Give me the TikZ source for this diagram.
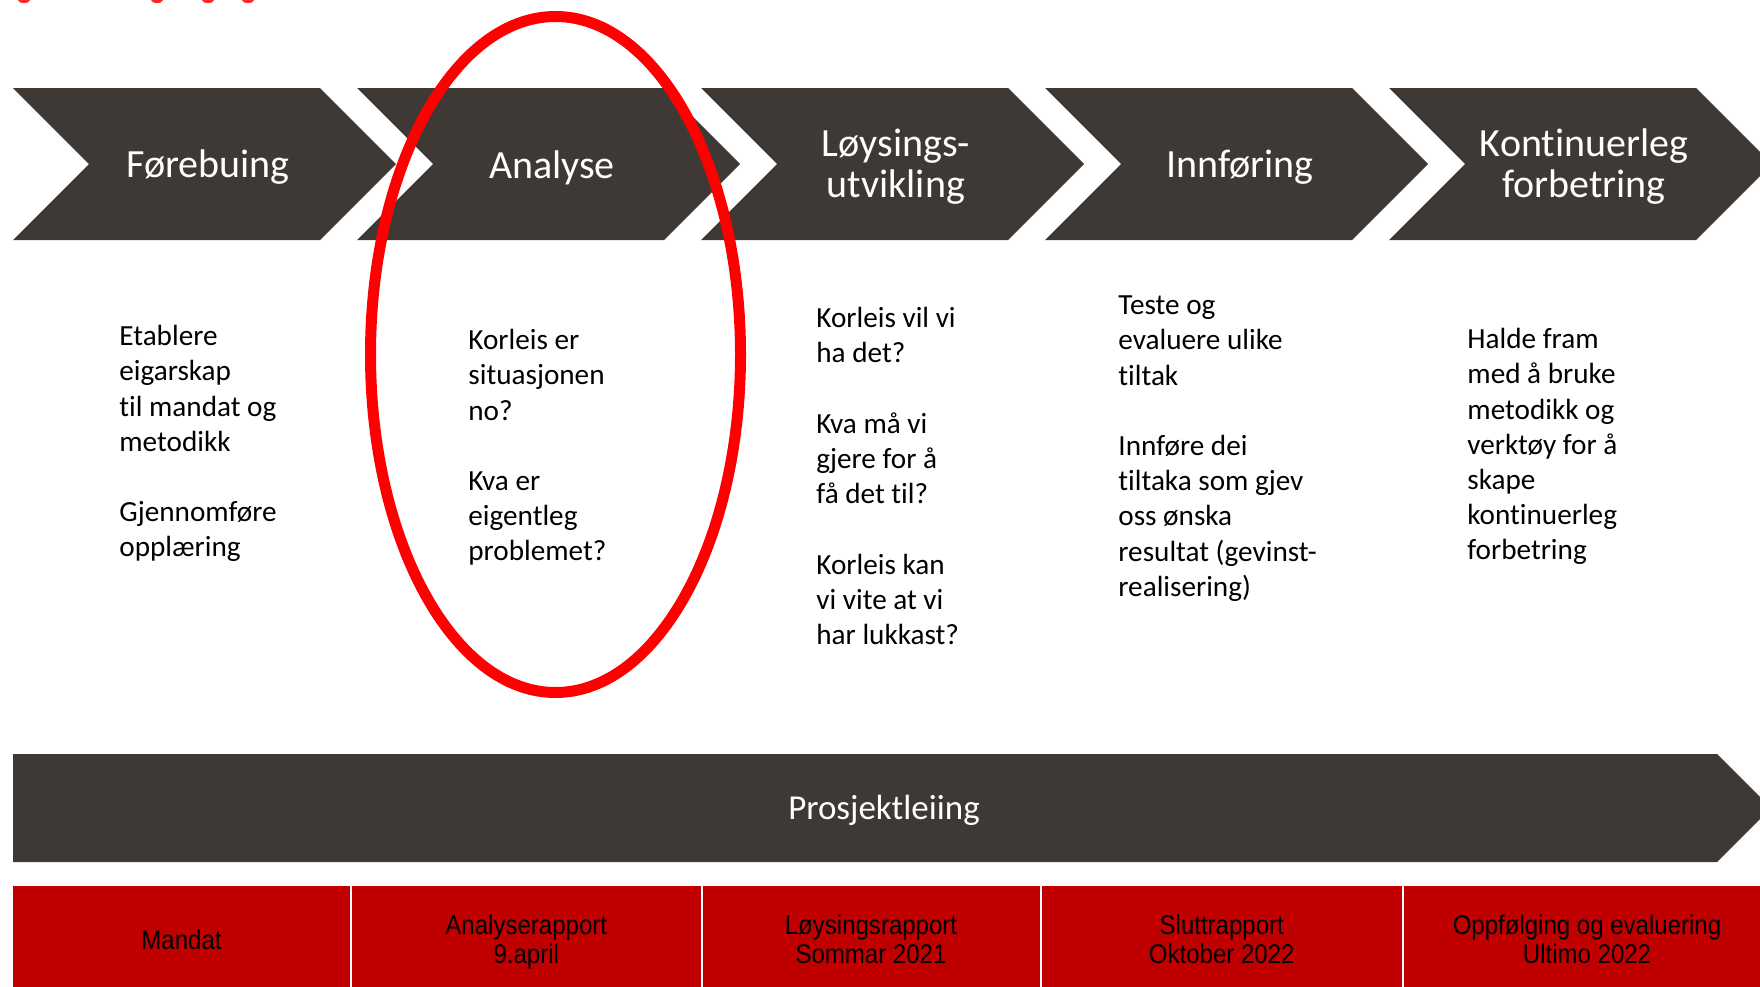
\documentclass[tikz,border=0pt]{standalone}
\usepackage{fontspec}
\setmainfont{Carlito}[Ligatures=NoCommon]
\newfontfamily\narrowfont[FakeStretch=0.89]{Liberation Sans}
\usetikzlibrary{positioning}

\definecolor{cDark}{HTML}{3E3934}
\definecolor{cRedBox}{HTML}{C00000}
\definecolor{cMark}{HTML}{FF0000}

\tikzset{
  stagelabel/.style={text=white, align=center, font=\fontsize{20}{20.6}\selectfont},
  stagetext/.style={anchor=north west, align=left, inner sep=0pt, font=\fontsize{14.6}{17.6}\selectfont},
  reportbox/.style={fill=cRedBox, minimum height=53.5pt, inner sep=0pt},
  reporttext/.style={align=center, inner sep=0pt, font=\narrowfont\fontsize{13.5}{14.5}\selectfont},
}

\begin{document}
\begin{tikzpicture}[x=0.5pt, y=-0.5pt]
    \useasboundingbox (0,0) rectangle (1760,986);
    \clip (0,0) rectangle (1760,986);

    % rests of a cut title
    \fill[cMark!85] (24,0) ellipse [x radius=3pt, y radius=1.5pt];
    \fill[cMark!85] (157,0) ellipse [x radius=3pt, y radius=1.5pt];
    \fill[cMark!85] (208,0) ellipse [x radius=3pt, y radius=1.5pt];
    \fill[cMark!85] (248,0) ellipse [x radius=3pt, y radius=1.5pt];

    % stages
    \fill[cDark] (13,88) -- ++(307,0) -- ++(76,76) -- ++(-76,76) -- ++(-307,0) -- ++(76,-76) -- cycle;
    \fill[cDark] (357,88) -- ++(307,0) -- ++(76,76) -- ++(-76,76) -- ++(-307,0) -- ++(76,-76) -- cycle;
    \fill[cDark] (701,88) -- ++(307,0) -- ++(76,76) -- ++(-76,76) -- ++(-307,0) -- ++(76,-76) -- cycle;
    \fill[cDark] (1045,88) -- ++(307,0) -- ++(76,76) -- ++(-76,76) -- ++(-307,0) -- ++(76,-76) -- cycle;
    \fill[cDark] (1389,88) -- ++(307,0) -- ++(76,76) -- ++(-76,76) -- ++(-307,0) -- ++(76,-76) -- cycle;

    \node[stagelabel] (cFore) at (208,167.5) {Førebuing};
    \node[stagelabel] (cAnal) at (552,167.5) {Analyse};
    \node[stagelabel] (cLoys) at (896,166.5) {Løysings-\\utvikling};
    \node[stagelabel] (cInnf) at (1240,167.5) {Innføring};
    \node[stagelabel] (cKont) at (1584,166.5) {Kontinuerleg\\forbetring};

    % text under each stage
    \node[stagetext] (tFore) at (119,320.6) {\strut Etablere\\eigarskap\\til mandat og\\metodikk\\[17.6pt]Gjennomføre\\opplæring};
    \node[stagetext] (tAnal) at (468,324.6) {\strut Korleis er\\situasjonen\\no?\\[17.6pt]Kva er\\eigentleg\\problemet?};
    \node[stagetext] (tLoys) at (816,302.6) {\strut Korleis vil vi\\ha det?\\[17.6pt]Kva må vi\\gjere for å\\få det til?\\[17.6pt]Korleis kan\\vi vite at vi\\har lukkast?};
    \node[stagetext] (tInnf) at (1118,289.6) {\strut Teste og\\evaluere ulike\\tiltak\\[17.6pt]Innføre dei\\tiltaka som gjev\\oss ønska\\resultat (gevinst-\\realisering)};
    \node[stagetext] (tKont) at (1467,323.6) {\strut Halde fram\\med å bruke\\metodikk og\\verktøy for å\\skape\\kontinuerleg\\forbetring};

    % ring round the analysis
    \draw[cMark, line width=5.5pt] (555.5,354.5) ellipse [x radius=92.5pt, y radius=169pt];

    % project management
    \fill[cDark] (13,754) -- (1717,754) -- (1771,808) -- (1717,862) -- (13,862) -- cycle;
    \node[text=white, font=\fontsize{17.5}{17.5}\selectfont] (pLead) at (884,810) {Prosjektleiing};

    % reports
    \node[reportbox, minimum width=168.5pt] (rMand) at (181.5,939.5) {};
    \node[reportbox, minimum width=174.25pt] (rAnal) at (526.25,939.5) {};
    \node[reportbox, minimum width=168.5pt] (rLoys) at (871,939.5) {};
    \node[reportbox, minimum width=180.25pt] (rSlut) at (1221.75,939.5) {};
    \node[reportbox, minimum width=183pt] (rOppf) at (1587,939.5) {};
    \node[reporttext] (lMand) at ([yshift=-2pt]rMand) {\strut Mandat\strut};
    \node[reporttext] (lAnal) at ([yshift=-2pt]rAnal) {\strut Analyserapport\\9.april\strut};
    \node[reporttext] (lLoys) at ([yshift=-2pt]rLoys) {\strut Løysingsrapport\\Sommar 2021\strut};
    \node[reporttext] (lSlut) at ([yshift=-2pt]rSlut) {\strut Sluttrapport\\Oktober 2022\strut};
    \node[reporttext] (lOppf) at ([yshift=-2pt]rOppf) {\strut Oppfølging og evaluering\\Ultimo 2022\strut};

\end{tikzpicture}
\end{document}
